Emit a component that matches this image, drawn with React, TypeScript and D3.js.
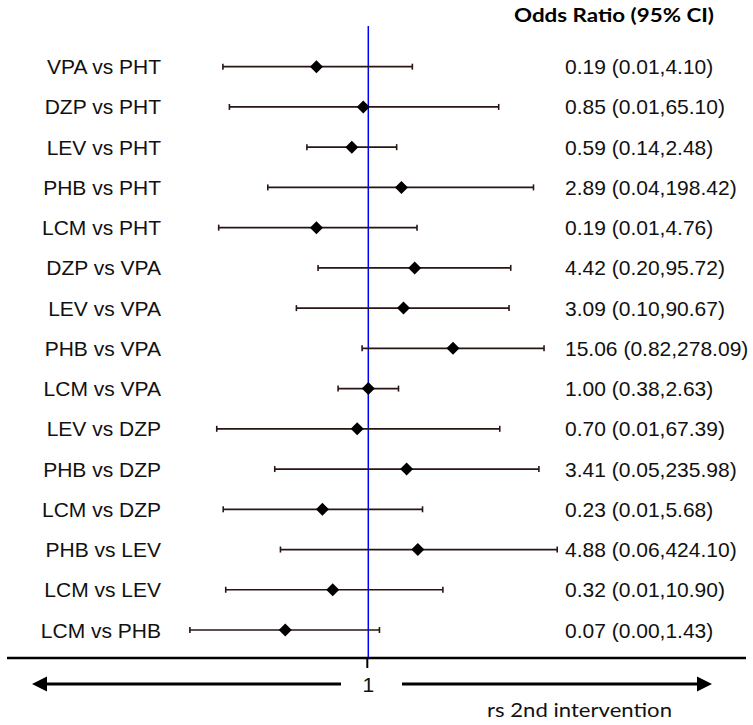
import React from "react";
import * as d3 from "d3";

// comparisons, top to bottom
const comparisons = [
  "VPA vs PHT", "DZP vs PHT", "LEV vs PHT", "PHB vs PHT", "LCM vs PHT",
  "DZP vs VPA", "LEV vs VPA", "PHB vs VPA", "LCM vs VPA",
  "LEV vs DZP", "PHB vs DZP", "LCM vs DZP",
  "PHB vs LEV", "LCM vs LEV", "LCM vs PHB",
];
const oddsRatio = [0.19, 0.85, 0.59, 2.89, 0.19, 4.42, 3.09, 15.06, 1.0, 0.7, 3.41, 0.23, 4.88, 0.32, 0.07];
// lower bounds shown as 0.01 / 0.00 are estimated from where the whisker ends
const ciLower = [0.0095, 0.0117, 0.14, 0.04, 0.0083, 0.2, 0.1, 0.82, 0.38, 0.0078, 0.05, 0.0096, 0.06, 0.0104, 0.0033];
const ciUpper = [4.1, 65.1, 2.48, 198.42, 4.76, 95.72, 90.67, 278.09, 2.63, 67.39, 235.98, 5.68, 424.1, 10.9, 1.43];
const refValue = 1;
const title = "Odds Ratio (95% CI)";
const footer = "rs 2nd intervention";

const W = 753, H = 725;
const fmt = d3.format(".2f");

export default function App() {
  const x = d3.scaleLog().domain([0.001, 1000]).range([152.6, 584]);
  const y = d3.scalePoint<string>().domain(comparisons).range([66.7, 630]);
  const x1 = x(refValue);
  const axisY = 658;
  const arrowY = 684;
  const lineColor = "#2a1515";
  const sans = "'Liberation Sans', Arial, sans-serif";
  const human = "Lato, 'Open Sans', sans-serif";

  const diamond = (cx: number, cy: number, r: number) =>
    `M${cx},${cy - r}L${cx + r},${cy}L${cx},${cy + r}L${cx - r},${cy}Z`;

  return (
    <svg width={W} height={H} style={{ position: "absolute", left: 0, top: 0, background: "#fff" }}>
      <text x={614} y={22} textAnchor="middle" fontFamily={human} fontWeight="bold" fontSize={19}
        textLength={200} lengthAdjust="spacingAndGlyphs">{title}</text>

      <line x1={x1} x2={x1} y1={26} y2={axisY} stroke="#0000ff" strokeWidth={1.5} />

      {comparisons.map((c, i) => {
        const cy = y(c) as number;
        const lo = x(ciLower[i]);
        const hi = x(ciUpper[i]);
        const mid = x(oddsRatio[i]);
        return (
          <g key={c}>
            <text x={161} y={cy + 7.5} textAnchor="end" fontFamily={sans} fontSize={21} fill="#111">{c}</text>
            <line x1={lo} x2={hi} y1={cy} y2={cy} stroke={lineColor} strokeWidth={1.7} />
            <line x1={lo} x2={lo} y1={cy - 3} y2={cy + 3} stroke={lineColor} strokeWidth={1.6} />
            <line x1={hi} x2={hi} y1={cy - 3} y2={cy + 3} stroke={lineColor} strokeWidth={1.6} />
            <path d={diamond(mid, cy, 6.5)} fill="#000" />
            <text x={565} y={cy + 7.5} fontFamily={sans} fontSize={21} fill="#111">
              {`${fmt(oddsRatio[i])} (${fmt(ciLower[i])},${fmt(ciUpper[i])})`}
            </text>
          </g>
        );
      })}

      <line x1={7} x2={746} y1={axisY} y2={axisY} stroke="#000" strokeWidth={2.5} />
      <line x1={x1 - 1} x2={x1 - 1} y1={axisY} y2={axisY + 10} stroke="#000" strokeWidth={2} />
      <text x={x1} y={arrowY + 8} textAnchor="middle" fontFamily={sans} fontSize={21} fill="#111">{refValue}</text>

      <line x1={45} x2={341} y1={arrowY} y2={arrowY} stroke="#000" strokeWidth={3} />
      <path d={`M32,${arrowY}L47,${arrowY - 7.5}L47,${arrowY + 7.5}Z`} fill="#000" />
      <line x1={402} x2={699} y1={arrowY} y2={arrowY} stroke="#000" strokeWidth={3} />
      <path d={`M712,${arrowY}L697,${arrowY - 7.5}L697,${arrowY + 7.5}Z`} fill="#000" />

      <text x={487} y={717} fontFamily={human} fontSize={19} fill="#111"
        textLength={185} lengthAdjust="spacingAndGlyphs">{footer}</text>
    </svg>
  );
}
